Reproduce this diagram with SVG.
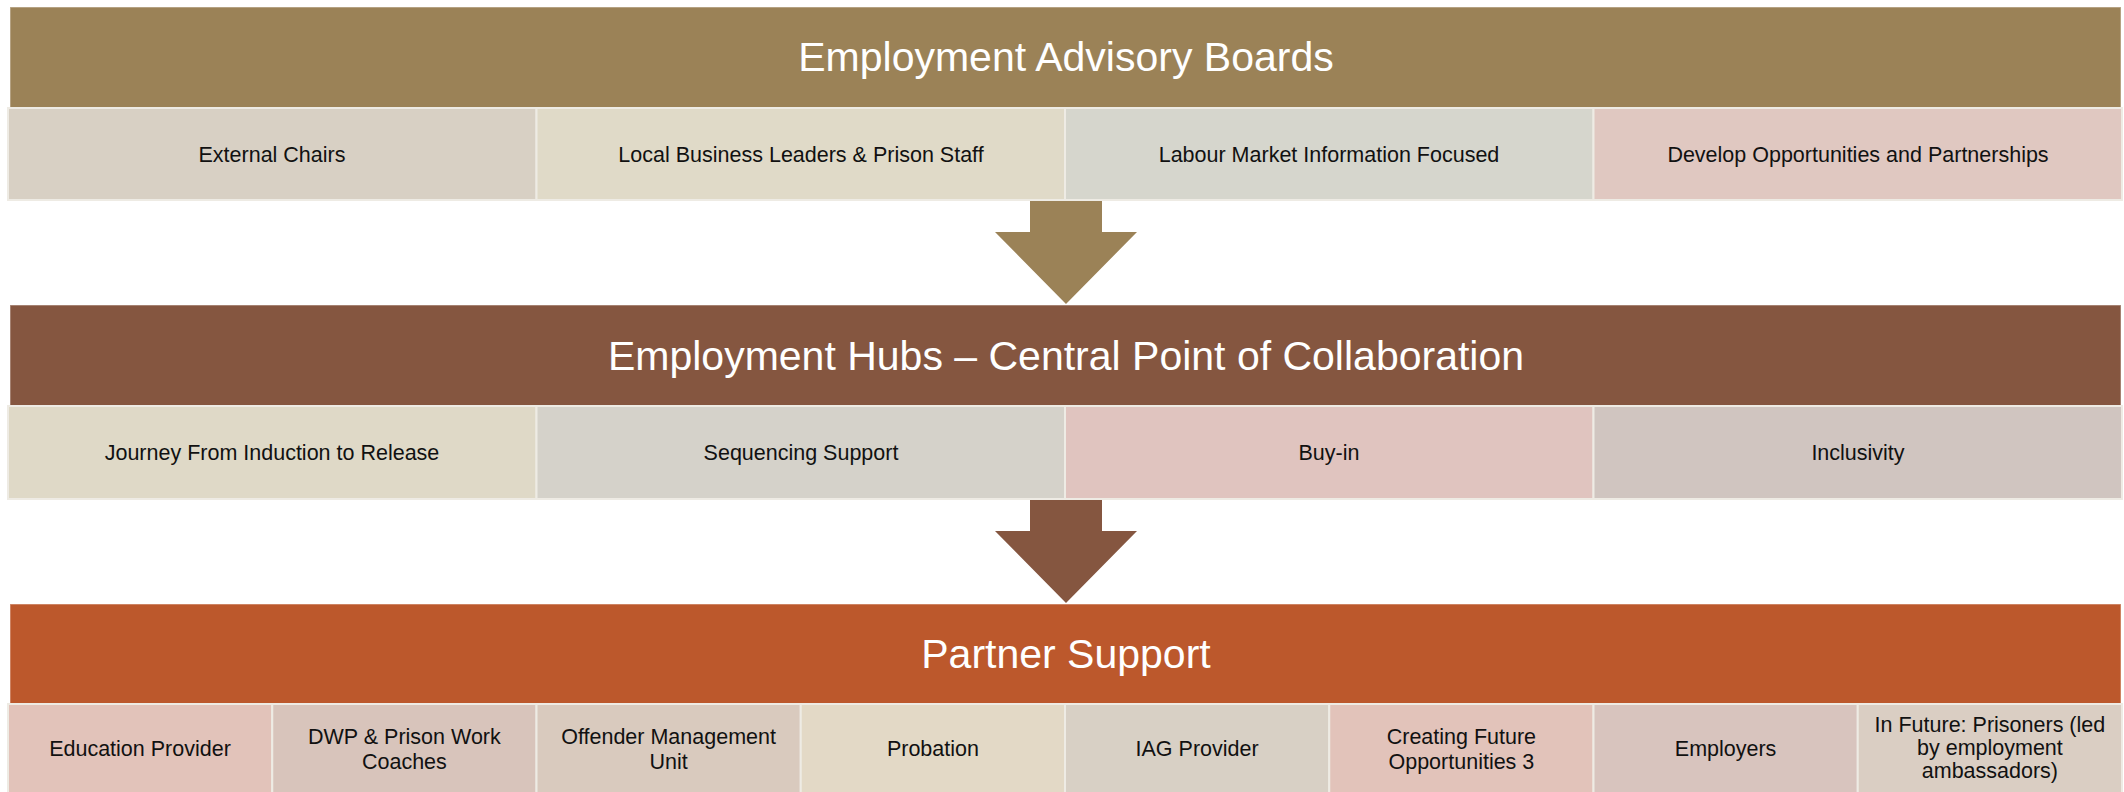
<svg xmlns="http://www.w3.org/2000/svg" width="2124" height="792" viewBox="0 0 2124 792">
<style>
.hd{stroke:#FFFFFF;stroke-opacity:0.35;stroke-width:1.5}
.sb{stroke:#EEEBE4;stroke-width:2}
.ht{font-family:"Liberation Sans",Arial,sans-serif;font-size:41px;fill:#FFFFFF;text-anchor:middle}
.st{font-family:"Liberation Sans",Arial,sans-serif;font-size:21.5px;fill:#111111;text-anchor:middle}
</style>
<rect x="0" y="0" width="2124" height="792" fill="#FFFFFF"/>
<g id="connectors">
<polygon id="arrow1" points="1030,200 1102,200 1102,232 1137,232 1066,304 995,232 1030,232" fill="#9B8257"/>
<polygon id="arrow2" points="1030,499 1102,499 1102,531 1137,531 1066,603 995,531 1030,531" fill="#855640"/>
</g>
<g id="advisory-boards">
<rect class="hd" x="10" y="7" width="2111" height="101" fill="#9B8257"/>
<text class="ht" x="1066" y="71">Employment Advisory Boards</text>
</g>
<g id="external-chairs"><rect class="sb" x="8" y="108" width="528.5" height="92" fill="#D8D0C4"/><text class="st" x="272" y="161.5">External Chairs</text></g>
<g id="local-business"><rect class="sb" x="536.5" y="108" width="528.5" height="92" fill="#E0DAC8"/><text class="st" x="801" y="161.5">Local Business Leaders &amp; Prison Staff</text></g>
<g id="labour-market"><rect class="sb" x="1065" y="108" width="528.5" height="92" fill="#D6D6CD"/><text class="st" x="1329" y="161.5">Labour Market Information Focused</text></g>
<g id="develop-opportunities"><rect class="sb" x="1593.5" y="108" width="528.5" height="92" fill="#E0C8C1"/><text class="st" x="1858" y="161.5">Develop Opportunities and Partnerships</text></g>

<g id="employment-hubs">
<rect class="hd" x="10" y="305" width="2111" height="101" fill="#855640"/>
<text class="ht" x="1066" y="370">Employment Hubs – Central Point of Collaboration</text>
</g>
<g id="journey"><rect class="sb" x="8" y="406" width="528.5" height="93" fill="#DFD9C7"/><text class="st" x="272" y="460">Journey From Induction to Release</text></g>
<g id="sequencing"><rect class="sb" x="536.5" y="406" width="528.5" height="93" fill="#D5D2CA"/><text class="st" x="801" y="460">Sequencing Support</text></g>
<g id="buy-in"><rect class="sb" x="1065" y="406" width="528.5" height="93" fill="#E0C4BF"/><text class="st" x="1329" y="460">Buy-in</text></g>
<g id="inclusivity"><rect class="sb" x="1593.5" y="406" width="528.5" height="93" fill="#D0C5C0"/><text class="st" x="1858" y="460">Inclusivity</text></g>

<g id="partner-support">
<rect class="hd" x="10" y="604" width="2111" height="100" fill="#BC582C"/>
<text class="ht" x="1066" y="668">Partner Support</text>
</g>
<g id="education-provider"><rect class="sb" x="8" y="704" width="264.25" height="92" fill="#E2C3BA"/><text class="st" x="140" y="756">Education Provider</text></g>
<g id="dwp"><rect class="sb" x="272.25" y="704" width="264.25" height="92" fill="#D8C4BB"/><text class="st" x="404.4" y="744">DWP &amp; Prison Work</text><text class="st" x="404.4" y="769">Coaches</text></g>
<g id="omu"><rect class="sb" x="536.5" y="704" width="264.25" height="92" fill="#D9CABE"/><text class="st" x="668.6" y="744">Offender Management</text><text class="st" x="668.6" y="769">Unit</text></g>
<g id="probation"><rect class="sb" x="800.75" y="704" width="264.25" height="92" fill="#E3D9C6"/><text class="st" x="932.9" y="756">Probation</text></g>
<g id="iag-provider"><rect class="sb" x="1065" y="704" width="264.25" height="92" fill="#D8D0C5"/><text class="st" x="1197.1" y="756">IAG Provider</text></g>
<g id="creating-future"><rect class="sb" x="1329.25" y="704" width="264.25" height="92" fill="#E2C3BA"/><text class="st" x="1461.4" y="744">Creating Future</text><text class="st" x="1461.4" y="769">Opportunities 3</text></g>
<g id="employers"><rect class="sb" x="1593.5" y="704" width="264.25" height="92" fill="#D8C4BE"/><text class="st" x="1725.6" y="756">Employers</text></g>
<g id="in-future"><rect class="sb" x="1857.75" y="704" width="264.25" height="92" fill="#DACEC3"/><text class="st" x="1989.9" y="732">In Future: Prisoners (led</text><text class="st" x="1989.9" y="755">by employment</text><text class="st" x="1989.9" y="778">ambassadors)</text></g>
</svg>
